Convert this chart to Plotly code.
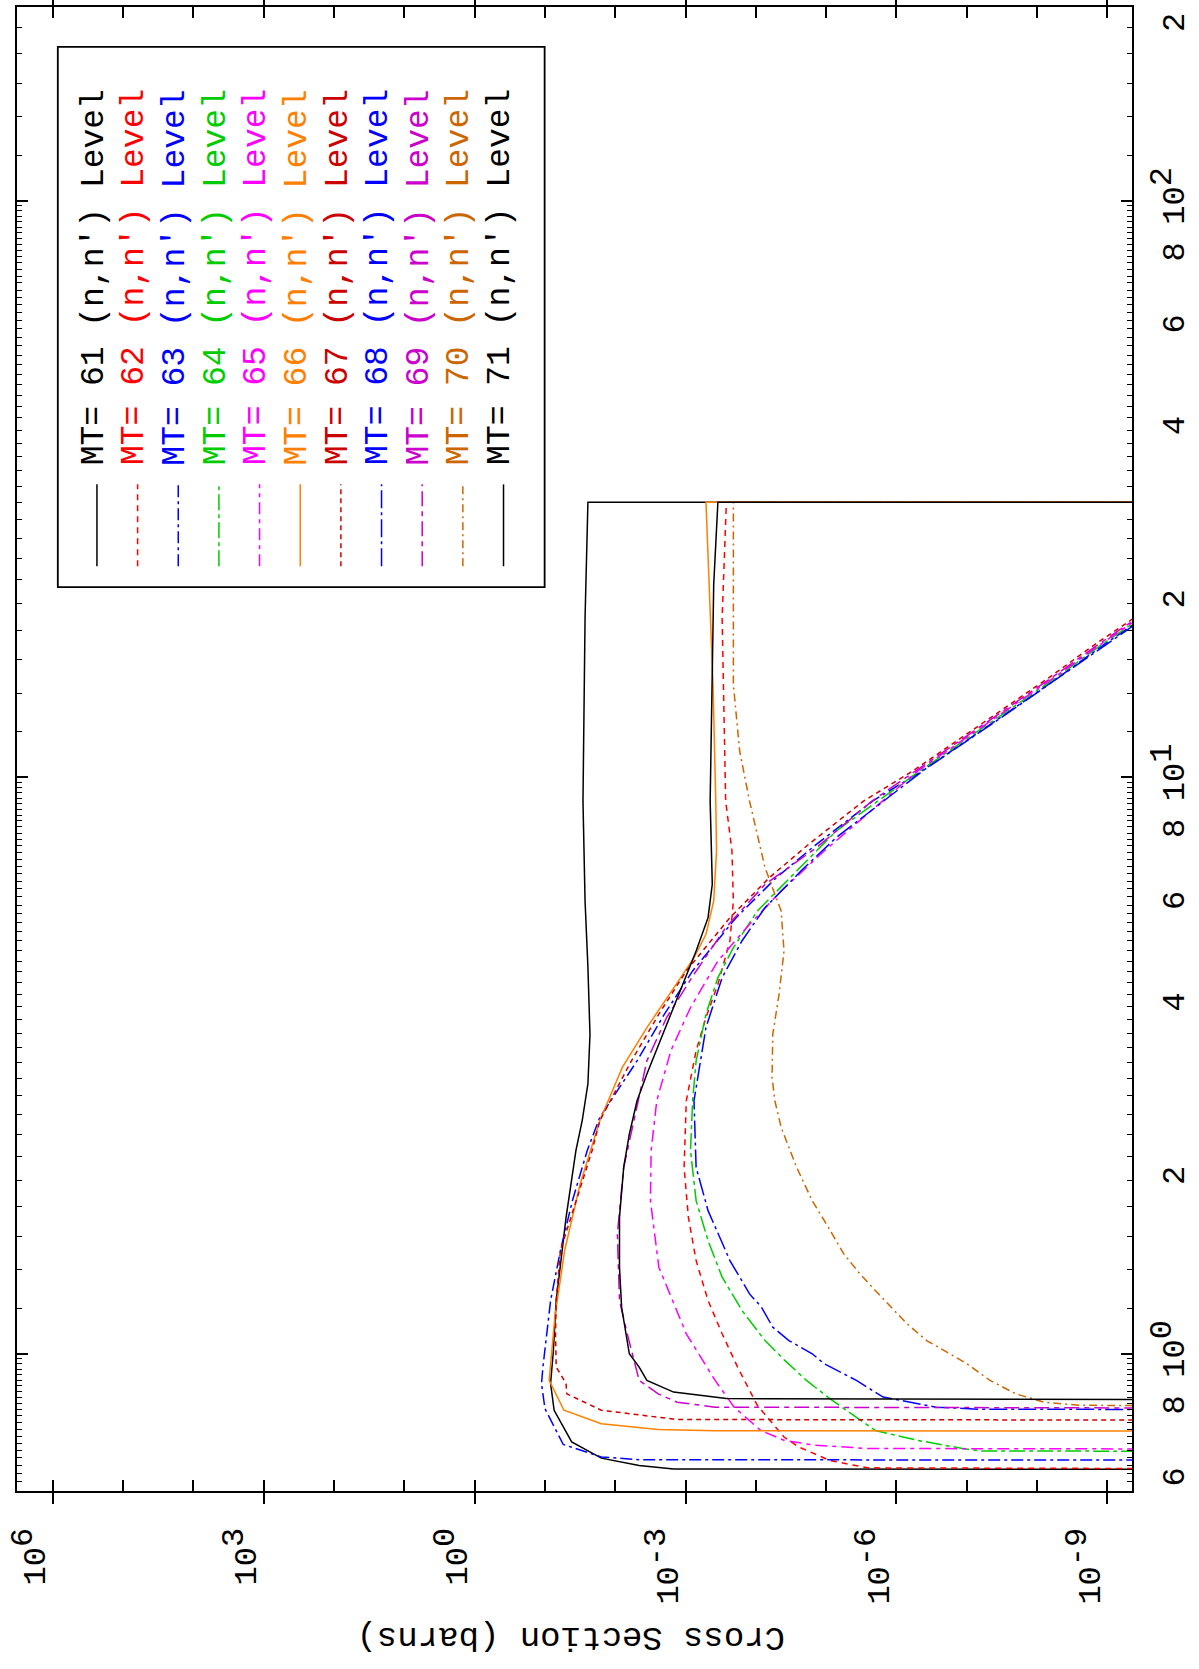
import math
import plotly.graph_objects as go

# ---------------- data (energy in MeV, cross section in barns) ----------------
mt_ids = [61, 62, 63, 64, 65, 66, 67, 68, 69, 70, 71]

E61 = [0.630, 0.631, 0.640, 0.659, 0.703, 0.798, 0.888, 1.013, 1.237, 1.413, 1.724, 2.25, 2.54, 2.94, 3.58, 4.68, 6.10, 9.09, 18.9, 30.0, 30.0]
S61 = [1e-15, 1.48e-3, 4.57e-3, 1.58e-2, 4.17e-2, 7.41e-2, 8.32e-2, 7.59e-2, 6.92e-2, 6.03e-2, 5.01e-2, 3.63e-2, 2.95e-2, 2.45e-2, 2.29e-2, 2.45e-2, 2.69e-2, 2.88e-2, 2.69e-2, 2.45e-2, 1e-15]

E62 = [0.630, 0.634, 0.653, 0.689, 0.717, 0.787, 0.814, 0.948, 1.083, 1.237, 1.451, 1.724, 2.105, 2.747, 3.354, 3.83, 4.375, 5.20, 6.10, 7.45, 9.09, 18.9, 30.0, 30.0]
S62 = [1e-15, 2.57e-6, 8.91e-6, 2.45e-5, 3.98e-5, 7.41e-5, 9.55e-5, 1.82e-4, 3.02e-4, 4.79e-4, 7.08e-4, 9.12e-4, 1.05e-3, 9.77e-4, 7.08e-4, 5.13e-4, 3.47e-4, 2.34e-4, 2.09e-4, 2.19e-4, 2.69e-4, 3.02e-4, 2.63e-4, 1e-15]

E63 = [0.653, 0.655, 0.662, 0.696, 0.803, 0.887, 0.948, 1.237, 1.51, 1.843, 2.25, 2.57, 3.222, 3.882, 4.614, 5.707, 6.694, 7.648, 9.09, 10.25, 12.67, 14.86, 16.99, 20.19]
S63 = [1e-15, 4.57e-3, 1.58e-2, 5.50e-2, 0.100, 0.112, 0.107, 8.32e-2, 6.03e-2, 4.07e-2, 2.51e-2, 1.66e-2, 4.90e-3, 2.00e-3, 7.94e-4, 1.91e-4, 5.13e-5, 1.38e-5, 2.19e-6, 4.37e-7, 3.39e-8, 5.13e-9, 1.12e-9, 1.38e-10]

E64 = [0.677, 0.678, 0.685, 0.698, 0.708, 0.736, 0.792, 0.836, 0.899, 0.974, 1.054, 1.189, 1.358, 1.571, 1.843, 2.25, 2.747, 3.222, 3.882, 4.492, 5.062, 5.861, 6.875, 8.065, 10.25, 12.67, 14.86, 16.99, 20.19]
S64 = [1e-15, 6.17e-8, 1.15e-7, 2.75e-7, 5.13e-7, 2.00e-6, 4.79e-6, 8.91e-6, 1.91e-5, 3.89e-5, 7.41e-5, 1.58e-4, 3.02e-4, 4.79e-4, 7.08e-4, 8.51e-4, 7.94e-4, 7.08e-4, 5.13e-4, 3.47e-4, 2.09e-4, 9.55e-5, 2.63e-5, 7.24e-6, 4.68e-7, 3.63e-8, 5.50e-9, 1.20e-9, 1.48e-10]

E65 = [0.682, 0.685, 0.694, 0.708, 0.736, 0.808, 0.899, 1.083, 1.413, 1.843, 2.25, 2.747, 3.354, 3.986, 4.802, 5.559, 6.348, 7.447, 10.25, 12.67, 14.86, 16.99, 20.19]
S65 = [1e-15, 2.57e-6, 1.48e-5, 3.98e-5, 8.51e-5, 2.04e-4, 3.80e-4, 9.77e-4, 2.40e-3, 3.16e-3, 3.09e-3, 2.57e-3, 1.62e-3, 8.51e-4, 3.47e-4, 1.23e-4, 4.37e-5, 1.07e-5, 5.01e-7, 3.89e-8, 5.89e-9, 1.26e-9, 1.58e-10]

E66 = [0.734, 0.735, 0.739, 0.756, 0.798, 0.899, 1.157, 1.511, 1.97, 2.536, 3.138, 3.68, 4.433, 4.866, 5.341, 6.10, 7.447, 9.09, 14.48, 21.6, 30.0, 30.0]
S66 = [1e-15, 3.80e-4, 2.45e-3, 1.58e-2, 5.37e-2, 8.71e-2, 7.24e-2, 5.25e-2, 3.16e-2, 1.66e-2, 7.94e-3, 3.55e-3, 1.26e-3, 7.59e-4, 5.13e-4, 3.98e-4, 3.63e-4, 3.72e-4, 4.07e-4, 4.57e-4, 5.13e-4, 1e-15]

E67 = [0.766, 0.769, 0.798, 0.852, 0.888, 0.948, 1.083, 1.237, 1.511, 1.843, 2.25, 2.536, 3.222, 3.882, 4.614, 5.707, 6.694, 7.648, 9.09, 10.25, 12.67, 14.86, 16.99, 20.19]
S67 = [1e-15, 1.32e-3, 1.58e-2, 4.90e-2, 5.01e-2, 6.92e-2, 7.08e-2, 6.92e-2, 6.03e-2, 3.63e-2, 2.14e-2, 1.66e-2, 5.89e-3, 2.40e-3, 9.77e-4, 2.34e-4, 6.46e-5, 1.78e-5, 2.95e-6, 5.89e-7, 4.57e-8, 6.92e-9, 1.51e-9, 1.86e-10]

E68 = [0.800, 0.801, 0.808, 0.841, 0.899, 0.961, 1.0, 1.054, 1.112, 1.204, 1.27, 1.451, 1.771, 2.105, 2.747, 3.68, 4.492, 5.20, 5.94, 6.875, 7.852, 10.25, 12.67, 14.86, 16.99, 20.19]
S68 = [1e-15, 6.17e-8, 2.75e-7, 1.55e-6, 3.72e-6, 1.07e-5, 1.58e-5, 3.39e-5, 5.75e-5, 8.32e-5, 1.23e-4, 2.34e-4, 4.79e-4, 7.08e-4, 7.59e-4, 5.13e-4, 3.02e-4, 1.58e-4, 7.41e-5, 2.29e-5, 7.24e-6, 4.27e-7, 3.31e-8, 5.01e-9, 1.07e-9, 1.35e-10]

E69 = [0.803, 0.808, 0.824, 0.852, 0.899, 1.083, 1.237, 1.614, 2.105, 2.536, 3.222, 3.83, 4.553, 5.484, 6.52, 7.545, 9.09, 10.25, 12.67, 14.86, 16.99, 20.19]
S69 = [1e-15, 3.80e-4, 1.32e-3, 2.45e-3, 4.57e-3, 6.76e-3, 8.71e-3, 9.33e-3, 7.59e-3, 5.50e-3, 3.55e-3, 1.86e-3, 7.59e-4, 2.69e-4, 7.41e-5, 1.38e-5, 2.24e-6, 5.37e-7, 4.17e-8, 6.31e-9, 1.35e-9, 1.70e-10]

E70 = [0.808, 0.814, 0.824, 0.852, 0.899, 0.961, 1.0, 1.054, 1.127, 1.204, 1.287, 1.376, 1.490, 1.657, 1.843, 2.105, 2.47, 2.747, 3.014, 3.584, 4.205, 4.996, 5.861, 6.966, 9.09, 11.10, 14.48, 30.0, 30.0]
S70 = [1e-15, 2.51e-9, 7.94e-9, 2.00e-8, 4.68e-8, 1.00e-7, 1.74e-7, 3.72e-7, 7.08e-7, 1.20e-6, 2.00e-6, 3.31e-6, 5.62e-6, 9.33e-6, 1.58e-5, 2.63e-5, 4.37e-5, 5.37e-5, 5.89e-5, 5.75e-5, 4.68e-5, 3.98e-5, 4.37e-5, 7.41e-5, 1.23e-4, 1.70e-4, 2.09e-4, 2.09e-4, 1e-15]

E71 = [0.830, 0.836, 0.858, 0.899, 0.948, 1.0, 1.204, 1.413, 1.724, 2.105, 2.405, 2.747, 3.056, 3.584, 4.375, 4.996, 5.707, 6.52, 9.09, 21.6, 30.0, 30.0]
S71 = [1e-15, 2.63e-4, 1.48e-3, 3.55e-3, 4.57e-3, 6.31e-3, 8.13e-3, 8.71e-3, 8.71e-3, 7.59e-3, 6.31e-3, 4.90e-3, 3.55e-3, 2.09e-3, 1.10e-3, 7.08e-4, 4.79e-4, 4.17e-4, 4.47e-4, 3.98e-4, 3.47e-4, 1e-15]

energies = [E61, E62, E63, E64, E65, E66, E67, E68, E69, E70, E71]
xsecs = [S61, S62, S63, S64, S65, S66, S67, S68, S69, S70, S71]

# tick labels
e_tick_vals = [0.6, 0.8, 1, 2, 4, 6, 8, 10, 20, 40, 60, 80, 100, 200]
e_tick_base = ["6", "8", "10", "2", "4", "6", "8", "10", "2", "4", "6", "8", "10", "2"]
e_tick_exp = ["", "", "0", "", "", "", "", "1", "", "", "", "", "2", ""]
xs_label_exps = [6, 3, 0, -3, -6, -9]

# ---------------- styles ----------------
colors = {61: "#000000", 62: "#FF0000", 63: "#0000FF", 64: "#00CC00", 65: "#FF00FF",
          66: "#FF8000", 67: "#CC0000", 68: "#0000FF", 69: "#CC00CC", 70: "#CC6600",
          71: "#000000"}
dashes = {61: "solid", 62: "6px,5px", 63: "12px,4px,3px,4px", 64: "16px,4px,4px,4px",
          65: "12px,5px,4px,5px", 66: "solid", 67: "5px,4px", 68: "18px,4px,3px,4px",
          69: "15px,5px,5px,5px", 70: "8px,4px,2px,4px", 71: "solid"}

W, H = 1199, 1669
L, R, T, B = 13, 66, 5, 178
PW, PH = W - L - R, H - T - B
MONO = "Liberation Mono"
TICK_SIZE = 32


def px(xp):
    return (xp - L) / PW


def py(yp):
    return 1 - (yp - T) / PH


def power_label(base, exp):
    if exp == "":
        return base
    return "%s<sup><span style='font-size:%dpx'>%s</span></sup>" % (base, TICK_SIZE, exp)


fig = go.Figure()
for mt, e, s in zip(mt_ids, energies, xsecs):
    fig.add_trace(go.Scatter(x=s, y=e, mode="lines", showlegend=False, hoverinfo="skip",
                             line=dict(color=colors[mt], width=1.5, dash=dashes[mt])))

# empty helper traces so that the overlay tick axes are drawn
fig.add_trace(go.Scatter(x=[], y=[], xaxis="x2", yaxis="y", showlegend=False, hoverinfo="skip"))
fig.add_trace(go.Scatter(x=[], y=[], xaxis="x", yaxis="y2", showlegend=False, hoverinfo="skip"))
fig.add_trace(go.Scatter(x=[], y=[], xaxis="x", yaxis="y3", showlegend=False, hoverinfo="skip"))

e_rng = [math.log10(0.578), math.log10(216.8)]
x_rng = [6.51, -9.35]
all_multiples = sorted(set([round(m * d, 6) for d in (0.1, 1, 10, 100) for m in range(1, 10)
                            if 0.578 <= m * d <= 216.8]))
unlabelled = [v for v in all_multiples
              if all(abs(v - t) > 1e-9 for t in e_tick_vals) and abs(math.log10(v) % 1) > 1e-9]
minor_vals = []
for d in (0.1, 1, 10, 100):
    for k in range(1, 45):
        v = d * (1 + 0.2 * k)
        if abs(round(v / d) - v / d) > 1e-6 and 0.578 <= v <= 216.8:
            minor_vals.append(v)

tickfont = dict(family=MONO, size=TICK_SIZE, color="black")
common = dict(showgrid=False, zeroline=False, ticks="inside", tickcolor="black",
              tickmode="array", mirror="allticks")

fig.update_layout(
    width=W, height=H, margin=dict(l=L, r=R, t=T, b=B),
    paper_bgcolor="white", plot_bgcolor="white", showlegend=False,
    xaxis=dict(type="log", range=x_rng, showline=True, linewidth=2, linecolor="black",
               ticklen=11, tickwidth=1.5,
               tickvals=[10.0 ** k for k in xs_label_exps],
               ticktext=[power_label("10", "%d" % k) for k in xs_label_exps],
               tickangle=-90, tickfont=tickfont, ticklabelstandoff=22,
               ticklabelshift=18, **common),
    xaxis2=dict(type="log", range=x_rng, overlaying="x", side="bottom", anchor="y",
                showline=False, ticklen=11, tickwidth=1.5,
                tickvals=[10.0 ** k for k in range(6, -10, -1)], showticklabels=False,
                **common),
    yaxis=dict(type="log", range=e_rng, side="right", showline=True, linewidth=2,
               linecolor="black", ticklen=5, tickwidth=1.3,
               tickvals=e_tick_vals,
               ticktext=[power_label(b, x) for b, x in zip(e_tick_base, e_tick_exp)],
               tickangle=-90, tickfont=tickfont, ticklabelstandoff=12,
               minor=dict(tickmode="array", tickvals=minor_vals, ticklen=2.5,
                          tickwidth=1, tickcolor="black", ticks="inside", showgrid=False),
               **common),
    yaxis2=dict(type="log", range=e_rng, overlaying="y", side="right", anchor="x",
                showline=False, ticklen=11, tickwidth=1.5,
                tickvals=[1, 10, 100], showticklabels=False, **common),
    yaxis3=dict(type="log", range=e_rng, overlaying="y", side="right", anchor="x",
                showline=False, ticklen=5, tickwidth=1.3,
                tickvals=unlabelled, showticklabels=False, **common),
)

# ---------------- legend (rotated, drawn by hand) ----------------
shapes = [dict(type="rect", xref="paper", yref="paper", x0=px(54), x1=px(543), y0=py(586), y1=py(45),
               line=dict(color="black", width=1.8), fillcolor="white", layer="below")]
annotations = []
col0, dcol = 93.3, 40.84
for i, mt in enumerate(mt_ids):
    cx = col0 + i * dcol
    shapes.append(dict(type="line", xref="paper", yref="paper", x0=px(cx), x1=px(cx),
                       y0=py(565), y1=py(483),
                       line=dict(color=colors[mt], width=1.5, dash=dashes[mt])))
    annotations.append(dict(xref="paper", yref="paper", x=px(cx - 3), y=py(466),
                            text="MT= %d (n,n') Level" % mt, showarrow=False,
                            textangle=-90, xanchor="center", yanchor="bottom",
                            font=dict(family=MONO, size=33, color=colors[mt])))

annotations.append(dict(xref="paper", yref="paper", x=px(570), y=py(1637),
                        text="Cross Section (barns)", showarrow=False, textangle=180,
                        xanchor="center", yanchor="middle",
                        font=dict(family=MONO, size=34, color="black")))

fig.update_layout(shapes=shapes, annotations=annotations)

fig.write_html("out.html", config={"displayModeBar": False},
               post_script="document.body.style.margin='0';")
